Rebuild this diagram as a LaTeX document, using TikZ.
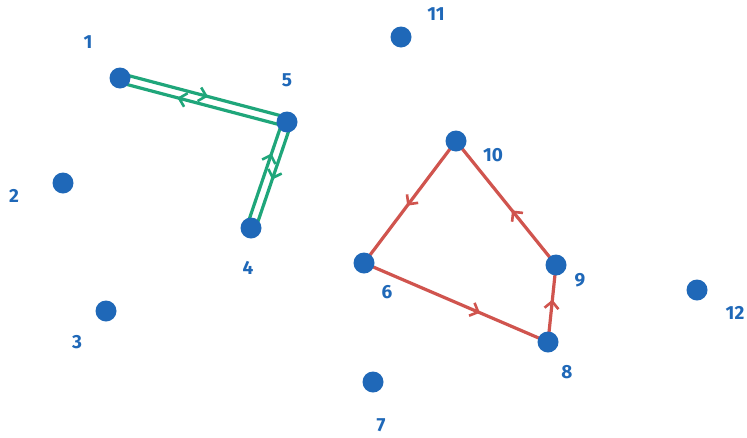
\documentclass[tikz,border=0pt]{standalone}
\usepackage{fontspec}
\setmainfont{Fira Sans}
\usetikzlibrary{calc,arrows.meta,decorations.markings}
\definecolor{dotblue}{HTML}{1F68B8}
\definecolor{pathgreen}{HTML}{1FA67A}
\definecolor{pathred}{HTML}{D0544E}
\pgfdeclarelayer{background}
\pgfsetlayers{background,main}
\tikzset{
  vertex/.style={circle,fill=dotblue,draw=none,minimum size=21pt,inner sep=0pt},
  numlabel/.style={text=dotblue,font=\bfseries\fontsize{19}{19}\selectfont,inner sep=0pt},
  midarrow/.style={postaction={decorate},decoration={markings,
      mark=at position #1 with {\arrow{Straight Barb[length=7pt,width=14pt,line width=2.6pt]}}}},
  greenedge/.style={draw=pathgreen,color=pathgreen,line width=3.2pt},
  rededge/.style={draw=pathred,color=pathred,line width=3.2pt},
}
\begin{document}
\begin{tikzpicture}[x=1pt,y=-1pt]
\useasboundingbox (0,0) rectangle (747,437);
% vertices
\node[vertex] (n1) at (120,78) {};
\node[vertex] (n2) at (63,183) {};
\node[vertex] (n3) at (106,311) {};
\node[vertex] (n4) at (251,228) {};
\node[vertex] (n5) at (287,122) {};
\node[vertex] (n6) at (364,263) {};
\node[vertex] (n7) at (373,382) {};
\node[vertex] (n8) at (548,342) {};
\node[vertex] (n9) at (556,265) {};
\node[vertex] (n10) at (456,141) {};
\node[vertex] (n11) at (401,37) {};
\node[vertex] (n12) at (697,290) {};
% vertex numbers
\node[numlabel] (l1) at (88,42) {1};
\node[numlabel] (l2) at (14,196) {2};
\node[numlabel] (l3) at (77,342) {3};
\node[numlabel] (l4) at (248,268) {4};
\node[numlabel] (l5) at (287,80) {5};
\node[numlabel] (l6) at (387,292) {6};
\node[numlabel] (l7) at (381,425) {7};
\node[numlabel] (l8) at (567,372) {8};
\node[numlabel] (l9) at (580,280) {9};
\node[numlabel] (l10) at (493,155) {10};
\node[numlabel] (l11) at (436,14) {11};
\node[numlabel] (l12) at (735,313) {12};
\begin{pgfonlayer}{background}
  \fill[white] (0,0) rectangle (747,437);
  % green walk: each direction drawn on its own side of the segment
  \draw[greenedge,midarrow=0.52]
    ($(n1.center)!4.5pt!90:(n5.center)$) -- ($(n5.center)!4.5pt!-90:(n1.center)$);
  \draw[greenedge,midarrow=0.65]
    ($(n5.center)!4.5pt!90:(n1.center)$) -- ($(n1.center)!4.5pt!-90:(n5.center)$);
  \draw[greenedge,midarrow=0.53]
    ($(n5.center)!4.5pt!90:(n4.center)$) -- ($(n4.center)!4.5pt!-90:(n5.center)$);
  \draw[greenedge,midarrow=0.69]
    ($(n4.center)!4.5pt!90:(n5.center)$) -- ($(n5.center)!4.5pt!-90:(n4.center)$);
  % red cycle
  \draw[rededge,midarrow=0.53] (n10.center) -- (n6.center);
  \draw[rededge,midarrow=0.63] (n6.center) -- (n8.center);
  \draw[rededge,midarrow=0.55] (n8.center) -- (n9.center);
  \draw[rededge,midarrow=0.44] (n9.center) -- (n10.center);
\end{pgfonlayer}
\end{tikzpicture}
\end{document}
